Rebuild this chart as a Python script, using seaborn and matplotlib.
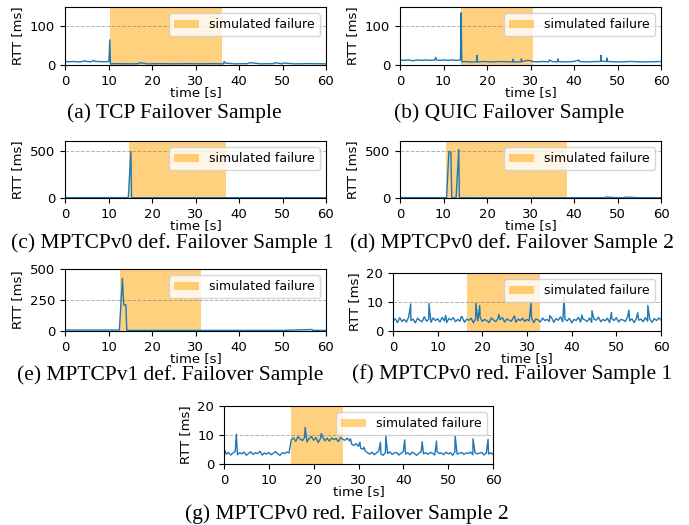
import matplotlib
matplotlib.use('Agg')
import matplotlib.pyplot as plt
import seaborn as sns
import numpy as np
import pandas as pd

plt.rcParams['font.family'] = ['DejaVu Sans']
plt.rcParams['font.size'] = 9

# ---- data (time in s, RTT in ms) ----
tcp_t = [0, 1, 2, 3, 4, 4.6, 5, 6, 6.6, 7, 8, 9, 10.1, 10.3, 10.45, 12, 14, 16, 17, 17.2,
         19, 22, 25, 28, 31, 34, 36.4, 36.6, 36.8, 39, 42, 42.5, 45, 48, 48.2, 50, 50.2, 53, 56, 60]
tcp_rtt = [9, 8.5, 9, 8, 9, 11, 9, 8.5, 12, 9, 9, 8.5, 9, 65, 3, 3.5, 3, 3, 3.5, 6,
           3, 3.5, 3, 3.5, 3, 3.5, 3, 9, 5, 3, 3.5, 6, 3, 3.5, 6, 3, 5, 3, 3.5, 3]
tcp_fail = (10.3, 36.2)

quic_t = [0, 1, 2, 3, 4, 5, 6, 7, 8, 8.2, 8.4, 9, 10, 11, 12, 13, 13.9, 14.05, 14.2, 15, 16,
          17.6, 17.7, 17.8, 19, 21, 23, 25.9, 26, 26.1, 27.8, 27.9, 28, 29.5, 31, 33, 34.2, 34.3, 35,
          36.2, 36.3, 36.4, 38, 40, 41.1, 41.2, 43, 45, 46.1, 46.2, 46.3, 47.5, 47.6, 47.7, 50, 53, 56, 60]
quic_rtt = [13, 12, 13, 11, 13, 12, 13, 12, 13, 20, 13, 12, 13, 12, 13, 12, 13, 135, 8, 9, 8,
            8, 25, 8, 9, 8, 9, 8, 15, 8, 8, 16, 9, 12, 8, 9, 8, 13, 9,
            8, 16, 9, 8, 9, 13, 9, 8, 9, 9, 25, 10, 9, 18, 9, 8, 9, 8, 9]
quic_fail = (14.0, 30.5)

v0d1_t = [0, 5, 10, 14.55, 15.15, 15.3, 20, 30, 40, 50, 60]
v0d1_rtt = [4, 4, 4, 4, 490, 3, 3, 3, 3, 3, 3]
v0d1_fail = (14.7, 37.0)

v0d2_t = [0, 5, 10.7, 11.25, 11.7, 11.9, 12.9, 13.5, 13.65, 20, 30, 40, 47, 47.3, 50, 51.5, 51.8, 55, 60]
v0d2_rtt = [4, 4, 4, 490, 480, 4, 4, 510, 4, 3, 3, 3, 3, 10, 3, 3, 10, 3, 3]
v0d2_fail = (10.6, 38.3)

v1d_t = [0, 5, 10, 12.5, 13.2, 13.5, 14.0, 14.2, 20, 30, 40, 50, 56.8, 57, 60]
v1d_rtt = [8, 8, 8, 8, 425, 210, 210, 5, 5, 5, 5, 5, 12, 5, 5]
v1d_fail = (12.6, 31.2)

# redundant scheduler runs: base samples every 0.5 s plus read-off spikes
sample_step = 0.5
v0r1_base = [
    3.5, 4.2, 2.9, 4.6, 3.3, 4.0, 3.1, 4.8, 3.6, 4.1,
    2.8, 4.4, 3.7, 3.2, 4.9, 3.4, 4.0, 3.0, 4.5, 3.6,
    4.2, 3.1, 4.7, 3.5, 2.9, 4.3, 3.8, 4.6, 3.2, 4.0,
    3.4, 4.8, 3.0, 4.1, 3.7, 4.4, 2.8, 4.2, 3.5, 4.7,
    3.3, 4.0, 3.6, 2.9, 4.5, 3.8, 3.2, 4.3, 3.9, 4.6,
    3.1, 4.2, 3.7, 3.4, 4.8, 3.0, 4.1, 3.6, 4.4, 3.3,
    4.0, 3.5, 4.7, 2.9, 4.2, 3.8, 3.1, 4.5, 3.6, 4.0,
    3.3, 4.6, 3.0, 4.3, 3.7, 4.9, 3.2, 4.1, 3.5, 4.4,
    2.8, 4.0, 3.6, 4.7, 3.1, 4.2, 3.8, 3.3, 4.5, 3.0,
    4.1, 3.7, 4.8, 3.2, 4.0, 3.5, 4.4, 2.9, 4.3, 3.6,
    4.6, 3.1, 4.0, 3.8, 3.3, 4.7, 3.5, 4.2, 2.9, 4.4,
    3.7, 4.1, 3.2, 4.6, 3.4, 4.0, 3.0, 4.3, 3.6, 4.5,
    3.8]
v0r1_spike_t = [3.95, 8.05, 11.8, 15.3, 18.55, 19.4, 23.7, 27.2, 30.9, 35.1, 38.3, 42.3, 44.55, 48.9, 52.8, 54.8, 57.05]
v0r1_spike_v = [9.3, 9.5, 5.4, 5.0, 9.5, 8.8, 5.7, 5.2, 10.2, 5.3, 11.7, 5.5, 7.0, 6.4, 7.2, 6.3, 8.8]
v0r1_fail = (16.6, 32.8)

v0r2_base = [
    5.2, 3.4, 4.0, 3.1, 3.8, 4.3, 3.2, 3.9, 3.5, 4.1,
    3.0, 3.7, 4.2, 3.3, 3.9, 3.6, 4.4, 3.1, 3.8, 3.4,
    4.0, 3.2, 3.7, 4.3, 3.5, 3.0, 3.9, 3.6, 4.1, 3.8,
    8.3, 9.0, 7.8, 9.4, 8.6, 8.1, 9.2, 7.6, 8.8, 9.5,
    8.2, 9.1, 7.4, 8.7, 9.3, 8.0, 8.9, 7.9, 9.0, 8.4,
    8.8, 7.7, 9.1, 8.5, 8.2, 8.9,
    8.0, 6.8, 6.4, 7.0, 6.1, 5.4, 5.1, 4.5,
    3.9, 3.4, 4.1, 3.2, 3.8, 4.4, 3.5, 3.0, 3.9, 3.6,
    4.2, 3.3, 3.8, 4.0, 3.1, 3.7, 4.3, 3.4, 3.9, 3.2,
    4.1, 3.6, 3.0, 3.8, 4.2, 3.5, 3.9, 3.3, 4.0, 3.7,
    3.1, 4.3, 3.6, 3.8, 3.2, 4.1, 3.5, 3.9, 3.0, 4.2,
    3.4, 3.7, 4.0, 3.3, 3.8, 3.6, 4.1, 3.2, 3.9, 3.5,
    3.7, 4.0, 3.1, 3.8, 3.4, 3.9, 3.3]
v0r2_spike_t = [2.75, 18.1, 21.7, 28.2, 30.3, 31.2, 34.9, 36.1, 40.3, 44.2, 47.4, 51.55, 55.55, 58.9]
v0r2_spike_v = [10.3, 12.6, 10.5, 8.7, 7.5, 5.8, 7.5, 9.8, 8.3, 7.7, 7.9, 9.9, 8.7, 8.5]
v0r2_fail = (14.9, 26.6)


def with_spikes(base, spike_t, spike_v):
    t = list(np.arange(len(base)) * sample_step) + spike_t
    return t, list(base) + spike_v


v0r1_t, v0r1_rtt = with_spikes(v0r1_base, v0r1_spike_t, v0r1_spike_v)
v0r2_t, v0r2_rtt = with_spikes(v0r2_base, v0r2_spike_t, v0r2_spike_v)

W, H = 689, 525
fig = plt.figure(figsize=(W / 100, H / 100), dpi=100)


def box(l, t, r, b):
    return [l / W, 1 - b / H, (r - l) / W, (b - t) / H]


panels = [
    (tcp_t, tcp_rtt, tcp_fail, 150, [0, 100], box(65, 7, 326, 65),
     '(a) TCP Failover Sample', (174, 113)),
    (quic_t, quic_rtt, quic_fail, 150, [0, 100], box(400, 7, 661, 65),
     '(b) QUIC Failover Sample', (509, 113)),
    (v0d1_t, v0d1_rtt, v0d1_fail, 600, [0, 500], box(65, 141, 326, 198),
     '(c) MPTCPv0 def. Failover Sample 1', (172, 243)),
    (v0d2_t, v0d2_rtt, v0d2_fail, 600, [0, 500], box(400, 141, 661, 198),
     '(d) MPTCPv0 def. Failover Sample 2', (512, 243)),
    (v1d_t, v1d_rtt, v1d_fail, 500, [0, 250, 500], box(65, 269, 326, 331),
     '(e) MPTCPv1 def. Failover Sample', (170, 375)),
    (v0r1_t, v0r1_rtt, v0r1_fail, 20, [0, 10, 20], box(393, 273, 661, 331),
     '(f) MPTCPv0 red. Failover Sample 1', (512, 374)),
    (v0r2_t, v0r2_rtt, v0r2_fail, 20, [0, 10, 20], box(224, 406, 493, 464),
     '(g) MPTCPv0 red. Failover Sample 2', (347, 514)),
]

for t, rtt, fail, ytop, yticks, pos, caption, cxy in panels:
    ax = fig.add_axes(pos)
    df = pd.DataFrame({'time': t, 'rtt': rtt})
    ax.axvspan(fail[0], fail[1], color='orange', alpha=0.5, lw=0, label='simulated failure')
    sns.lineplot(data=df, x='time', y='rtt', ax=ax, color='tab:blue', linewidth=1.0,
                 errorbar=None, legend=False)
    ax.set_xlim(0, 60)
    ax.set_ylim(0, ytop)
    ax.set_xticks([0, 10, 20, 30, 40, 50, 60])
    ax.set_yticks(yticks)
    ax.yaxis.grid(True, linestyle='--', color='gray', alpha=0.6, linewidth=0.7)
    ax.tick_params(labelsize=9.5)
    ax.set_xlabel('time [s]', fontsize=9.5, labelpad=-1)
    ax.set_ylabel('RTT [ms]', fontsize=9.5)
    ax.legend(loc='upper right', fontsize=9)
    fig.text(cxy[0] / W, 1 - cxy[1] / H, caption, ha='center', va='center',
             family='Liberation Serif', fontsize=15.5)

fig.savefig('out.png', dpi=100)
